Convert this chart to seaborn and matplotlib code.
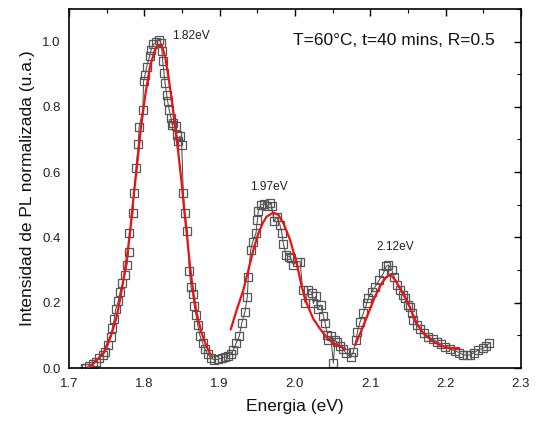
import matplotlib
matplotlib.use("Agg")
import matplotlib.pyplot as plt
import seaborn as sns
import pandas as pd
from matplotlib.ticker import MultipleLocator

# Measured PL spectrum (open squares)
energy = [1.721, 1.7226, 1.727, 1.7315, 1.736, 1.740, 1.745, 1.748, 1.752, 1.756,
          1.7575, 1.760, 1.762, 1.7655, 1.768, 1.771, 1.774, 1.777, 1.779, 1.780,
          1.785, 1.786, 1.789, 1.792, 1.793, 1.798, 1.799, 1.801, 1.803, 1.807,
          1.809, 1.812, 1.8155, 1.820, 1.822, 1.8235, 1.8244, 1.826, 1.8275, 1.8297,
          1.831, 1.833, 1.8355, 1.837, 1.8385, 1.842, 1.843, 1.845, 1.8474, 1.8496,
          1.8518, 1.854, 1.857, 1.8598, 1.862, 1.8643, 1.8664, 1.8687, 1.8709, 1.874,
          1.8775, 1.8806, 1.8842, 1.8886, 1.893, 1.8983, 1.9028, 1.9072, 1.9116, 1.9151,
          1.918, 1.9218, 1.9262, 1.9293, 1.9337, 1.9368, 1.938, 1.9412, 1.944, 1.9483,
          1.950, 1.9514, 1.9546, 1.959, 1.9625, 1.967, 1.969, 1.9723, 1.9758, 1.980,
          1.9825, 1.9846, 1.9882, 1.9926, 1.9944, 1.998, 2.0023, 2.0068, 2.0103, 2.0134,
          2.0178, 2.0223, 2.0245, 2.028, 2.0302, 2.0342, 2.0377, 2.040, 2.043, 2.0444,
          2.0475, 2.051, 2.0532, 2.0555, 2.0599, 2.0643, 2.0679, 2.0741, 2.0776, 2.0811,
          2.083, 2.0865, 2.0908, 2.0953, 2.0975, 2.102, 2.1064, 2.112, 2.1174, 2.121,
          2.124, 2.1285, 2.1316, 2.136, 2.1396, 2.143, 2.146, 2.1506, 2.1529, 2.155,
          2.1573, 2.1618, 2.1661, 2.1714, 2.1772, 2.183, 2.1883, 2.1936, 2.1993, 2.206,
          2.2126, 2.2183, 2.2236, 2.2281, 2.2325, 2.2378, 2.2436, 2.2494, 2.2538, 2.2582]
intensity = [0.000, 0.001, 0.007, 0.012, 0.019, 0.030, 0.040, 0.050, 0.070, 0.096,
             0.122, 0.149, 0.180, 0.206, 0.234, 0.260, 0.285, 0.315, 0.354, 0.415,
             0.474, 0.536, 0.614, 0.686, 0.737, 0.791, 0.878, 0.899, 0.922, 0.955,
             0.975, 0.991, 0.998, 1.004, 0.996, 0.970, 0.940, 0.904, 0.873, 0.837,
             0.817, 0.791, 0.766, 0.745, 0.750, 0.740, 0.715, 0.694, 0.710, 0.684,
             0.536, 0.474, 0.421, 0.298, 0.247, 0.227, 0.190, 0.163, 0.132, 0.098,
             0.076, 0.057, 0.043, 0.030, 0.025, 0.027, 0.031, 0.033, 0.037, 0.043,
             0.055, 0.076, 0.098, 0.137, 0.173, 0.219, 0.278, 0.362, 0.387, 0.413,
             0.452, 0.482, 0.500, 0.503, 0.495, 0.505, 0.497, 0.449, 0.462, 0.439,
             0.415, 0.380, 0.347, 0.341, 0.336, 0.316, 0.326, 0.326, 0.239, 0.200,
             0.239, 0.231, 0.198, 0.221, 0.180, 0.193, 0.160, 0.139, 0.101, 0.085,
             0.098, 0.015, 0.085, 0.081, 0.067, 0.057, 0.045, 0.033, 0.050, 0.086,
             0.111, 0.142, 0.168, 0.198, 0.214, 0.234, 0.249, 0.270, 0.290, 0.311,
             0.316, 0.301, 0.280, 0.255, 0.239, 0.224, 0.214, 0.193, 0.188, 0.168,
             0.147, 0.132, 0.118, 0.106, 0.096, 0.088, 0.081, 0.074, 0.065, 0.057,
             0.053, 0.047, 0.040, 0.040, 0.040, 0.047, 0.055, 0.060, 0.067, 0.076]

# Fitted peaks (red curves)
fit1_e = [1.7257, 1.7323, 1.7456, 1.7567, 1.7633, 1.7677, 1.773, 1.7766, 1.781, 1.7846,
          1.7907, 1.7952, 1.801, 1.8076, 1.8142, 1.8186, 1.8231, 1.8275, 1.8319, 1.8364,
          1.8408, 1.8452, 1.8496, 1.8527, 1.8563, 1.8607, 1.8651, 1.8695, 1.8762, 1.8828, 1.8882]
fit1_i = [0.0, 0.014, 0.045, 0.106, 0.157, 0.209, 0.28, 0.336, 0.413, 0.50,
          0.628, 0.73, 0.832, 0.924, 0.975, 0.99, 0.988, 0.955, 0.894, 0.822,
          0.74, 0.658, 0.566, 0.49, 0.413, 0.311, 0.229, 0.168, 0.106, 0.065, 0.04]
fit2_e = [1.9147, 1.9227, 1.9315, 1.9382, 1.9448, 1.9515, 1.9575, 1.9625, 1.9713, 1.978,
          1.9846, 1.9935, 2.0023, 2.009, 2.0156, 2.0245, 2.0333, 2.0444, 2.0555, 2.0665]
fit2_i = [0.118, 0.178, 0.239, 0.300, 0.362, 0.413, 0.445, 0.464, 0.476, 0.469,
          0.444, 0.393, 0.321, 0.249, 0.198, 0.150, 0.120, 0.088, 0.070, 0.060]
fit3_e = [2.0798, 2.0887, 2.0975, 2.1064, 2.1152, 2.1219, 2.1272, 2.1329, 2.1396, 2.1462,
          2.1529, 2.1618, 2.1705, 2.1817, 2.1949, 2.206, 2.2184]
fit3_i = [0.07, 0.117, 0.168, 0.219, 0.26, 0.28, 0.285, 0.27, 0.244, 0.219,
          0.184, 0.137, 0.106, 0.084, 0.067, 0.061, 0.059]

peak_labels = ["1.82eV", "1.97eV", "2.12eV"]
peak_label_pos = [(1.862, 1.018), (1.9656, 0.555), (2.133, 0.371)]
condition_text = "T=60°C, t=40 mins, R=0.5"

sns.set_theme(style="white")
plt.rcParams['font.family'] = ['Liberation Sans', 'DejaVu Sans']

fig = plt.figure(figsize=(5.37, 4.23), dpi=100)
ax = fig.add_axes([0.1285, 0.130, 0.8415, 0.849])

df = pd.DataFrame({"E": energy, "I": intensity})
sns.lineplot(data=df, x="E", y="I", ax=ax, sort=False, estimator=None,
             color="#444444", lw=0.7, marker="s", markersize=5.6,
             markerfacecolor="none", markeredgecolor="#555555", markeredgewidth=0.9,
             zorder=2)
for fe, fi in [(fit1_e, fit1_i), (fit2_e, fit2_i), (fit3_e, fit3_i)]:
    sns.lineplot(x=fe, y=fi, ax=ax, sort=False, estimator=None,
                 color="#ee1111", lw=1.6, zorder=3)

for lab, (px, py) in zip(peak_labels, peak_label_pos):
    ax.text(px, py, lab, fontsize=8.6, ha="center", va="center", color="#222222")
ax.text(2.1316, 1.004, condition_text, fontsize=12.5, ha="center", va="center",
        color="#111111")

ax.set_xlim(1.7, 2.3)
ax.set_ylim(0, 1.1)
ax.xaxis.set_major_locator(MultipleLocator(0.1))
ax.xaxis.set_minor_locator(MultipleLocator(0.05))
ax.yaxis.set_major_locator(MultipleLocator(0.2))
ax.yaxis.set_minor_locator(MultipleLocator(0.1))
ax.set_xticks([1.7, 1.8, 1.9, 2.0, 2.1, 2.2, 2.3])
ax.set_xticklabels(["1.7", "1.8", "1.9", "2.0", "2.1", "2.2", "2.3"])
ax.set_yticks([0.0, 0.2, 0.4, 0.6, 0.8, 1.0])
ax.set_yticklabels(["0.0", "0.2", "0.4", "0.6", "0.8", "1.0"])
ax.tick_params(which="both", direction="in", top=True, right=True,
               colors="black", labelcolor="#222222", labelsize=9.5)
ax.tick_params(axis="x", which="major", pad=7)
ax.tick_params(axis="y", which="major", pad=6)
ax.tick_params(which="major", length=5, width=1.0)
ax.tick_params(which="minor", length=3, width=0.8)
for s in ax.spines.values():
    s.set_color("black")
    s.set_linewidth(1.2)

ax.set_xlabel("Energia (eV)", fontsize=12.5, color="#111111", labelpad=7)
ax.set_ylabel("Intensidad de PL normalizada (u.a.)", fontsize=12.5, color="#111111", labelpad=5)

fig.savefig("out.png", dpi=100)
